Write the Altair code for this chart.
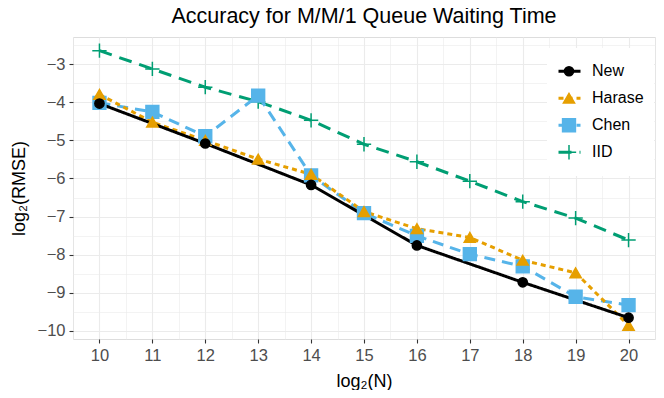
import altair as alt
import pandas as pd

# ---- data ----
N = [10, 11, 12, 13, 14, 15, 16, 17, 18, 19, 20]
new_N = [10, 12, 14, 16, 18, 20]
new_vals = [-4.03, -5.08, -6.17, -7.76, -8.73, -9.66]
harase_vals = [-3.79, -4.52, -5.00, -5.49, -5.89, -6.87, -7.32, -7.55, -8.15, -8.48, -9.86]
chen_vals = [-4.01, -4.25, -4.89, -3.82, -5.92, -6.91, -7.51, -7.99, -8.31, -9.11, -9.33]
iid_vals = [-2.64, -3.12, -3.60, -3.98, -4.47, -5.10, -5.56, -6.07, -6.61, -7.04, -7.62]

methods = ["New", "Harase", "Chen", "IID"]
x_ticks = N
y_ticks = [-10, -9, -8, -7, -6, -5, -4, -3]
x_minor = [9.5, 10.5, 11.5, 12.5, 13.5, 14.5, 15.5, 16.5, 17.5, 18.5, 19.5, 20.5]
y_minor = [-10.5, -9.5, -8.5, -7.5, -6.5, -5.5, -4.5, -3.5, -2.5]

# ---- styles ----
colors = ["#000000", "#E69F00", "#56B4E9", "#009E73"]
dashes = [[1, 0], [5, 4], [11, 7], [13, 8]]
shapes = ["circle", "triangle-up", "square", "M-1,0H1M0,-1V1"]
sizes = [85, 205, 110, 240]
FONT = "Liberation Sans"

# marker legend uses its own (label-less) domain so it is not merged with the line legend
mkey = [m + " " for m in methods]

series = [("IID", N, iid_vals), ("Chen", N, chen_vals),
          ("Harase", N, harase_vals), ("New", new_N, new_vals)]
rows = []
for z, (name, xs, ys) in enumerate(series):
    for x, y in zip(xs, ys):
        rows.append({"N": x, "value": y, "method": name, "mp": name + " ", "z": z})
df = pd.DataFrame(rows)

xscale = alt.Scale(domain=[9.5, 20.5], nice=False, zero=False)
yscale = alt.Scale(domain=[-10.22, -2.28], nice=False, zero=False)

major_x = alt.Axis(values=x_ticks, format="d", orient="bottom", grid=True,
                   gridColor="#EBEBEB", gridWidth=1.1, domain=False,
                   tickSize=4, tickColor="#333333", tickWidth=1.1,
                   labelFont=FONT, labelFontSize=16.5, labelColor="#4D4D4D",
                   labelBaseline="alphabetic", labelPadding=17.5,
                   title="log₂(N)", titleFont=FONT, titleFontSize=18,
                   titleFontWeight="normal", titleColor="black",
                   titleBaseline="alphabetic", titleY=47.5)
major_y = alt.Axis(values=y_ticks, format="d", orient="left", grid=True,
                   gridColor="#EBEBEB", gridWidth=1.1, domain=False,
                   tickSize=4, tickColor="#333333", tickWidth=1.1,
                   labelFont=FONT, labelFontSize=16.5, labelColor="#4D4D4D",
                   labelPadding=4,
                   title="log₂(RMSE)", titleFont=FONT, titleFontSize=18,
                   titleFontWeight="normal", titleColor="black",
                   titleAngle=270, titleBaseline="alphabetic",
                   titleX=-48.8, titleY=151, titleAlign="center")
minor_x = alt.Axis(values=x_minor, orient="bottom", grid=True, gridColor="#EBEBEB",
                   gridWidth=0.6, domain=False, ticks=False, labels=False, title=None)
minor_y = alt.Axis(values=y_minor, orient="left", grid=True, gridColor="#EBEBEB",
                   gridWidth=0.6, domain=False, ticks=False, labels=False, title=None)

legA = alt.Legend(title=None, orient="none", legendX=474, legendY=11, padding=10,
                  fillColor="white", labelFont=FONT, labelFontSize=16,
                  labelColor="black", labelOffset=10, symbolSize=484,
                  symbolStrokeWidth=3, symbolType="stroke", rowPadding=0,
                  clipHeight=26.5, zindex=1)
legB = alt.Legend(title=None, orient="none", legendX=478, legendY=11, padding=10,
                  labelExpr="''", labelFontSize=1, labelOffset=0,
                  symbolStrokeWidth=1.5, symbolOpacity=1,
                  rowPadding=0, clipHeight=26.5, zindex=2)

minor = alt.Chart(df).mark_point(opacity=0).encode(
    x=alt.X("N:Q", scale=xscale, axis=minor_x),
    y=alt.Y("value:Q", scale=yscale, axis=minor_y),
)

lines = alt.Chart(df).mark_line(strokeWidth=3).encode(
    x=alt.X("N:Q", scale=xscale, axis=major_x),
    y=alt.Y("value:Q", scale=yscale, axis=major_y),
    color=alt.Color("method:N", scale=alt.Scale(domain=methods, range=colors), legend=legA),
    strokeDash=alt.StrokeDash("method:N", scale=alt.Scale(domain=methods, range=dashes), legend=legA),
)

points = alt.Chart(df).mark_point(filled=True, opacity=1, strokeWidth=1.5).encode(
    x=alt.X("N:Q", scale=xscale, axis=None),
    y=alt.Y("value:Q", scale=yscale, axis=None),
    shape=alt.Shape("mp:N", scale=alt.Scale(domain=mkey, range=shapes), legend=legB),
    fill=alt.Fill("mp:N", scale=alt.Scale(domain=mkey, range=colors), legend=legB),
    stroke=alt.Stroke("mp:N", scale=alt.Scale(domain=mkey, range=colors), legend=legB),
    size=alt.Size("mp:N", scale=alt.Scale(domain=mkey, range=sizes), legend=legB),
    order=alt.Order("z:Q"),
)

chart = alt.layer(minor, lines, points).resolve_axis(
    x="independent", y="independent"
).properties(
    width=582, height=302,
    autosize=alt.AutoSizeParams(type="none"),
    padding={"left": 65, "top": 29, "right": 1, "bottom": 51},
    title=alt.TitleParams(text="Accuracy for M/M/1 Queue Waiting Time", font=FONT,
                          fontSize=21.5, fontWeight="normal", color="black",
                          anchor="middle", frame="group", offset=9.5),
).configure_view(stroke="#333333", strokeWidth=1.1).configure(background="white")

chart.save("out.html", embed_options={"renderer": "svg", "actions": False})
